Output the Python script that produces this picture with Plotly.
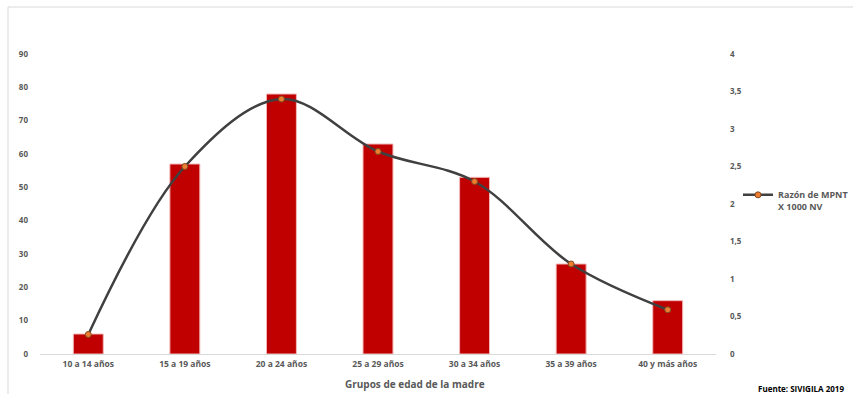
import plotly.graph_objects as go

# Grupos de edad y valores
grupos = ["10 a 14 años", "15 a 19 años", "20 a 24 años", "25 a 29 años",
          "30 a 34 años", "35 a 39 años", "40 y más años"]
casos = [6, 57, 78, 63, 53, 27, 16]
razon = [0.26, 2.5, 3.4, 2.7, 2.3, 1.2, 0.59]

left_ticks = [0, 10, 20, 30, 40, 50, 60, 70, 80, 90]
right_ticks = [0, 0.5, 1, 1.5, 2, 2.5, 3, 3.5, 4]
right_labels = ["0", "0,5", "1", "1,5", "2", "2,5", "3", "3,5", "4"]

W, H = 853, 394
ML, MR, MT, MB = 40, 137, 54, 40
PW, PH = W - ML - MR, H - MT - MB


def px_x(x):
    return (x - ML) / PW


def px_y(y):
    return (H - MB - y) / PH


FONT = "Open Sans"
GRAY = "#595959"

fig = go.Figure()
fig.add_trace(go.Bar(
    x=grupos, y=casos, width=0.31,
    marker=dict(color="#C00000", line=dict(color="#F2B8B8", width=1)),
    showlegend=False, yaxis="y",
))
fig.add_trace(go.Scatter(
    x=grupos, y=razon, yaxis="y2", mode="lines+markers",
    name="Razón de MPNT<br>X 1000 NV",
    line=dict(color="#404040", width=2.5, shape="spline", smoothing=1),
    marker=dict(size=6, color="#ED7D31", line=dict(color="#7F4A1F", width=1)),
))

fig.update_layout(
    width=W, height=H,
    margin=dict(l=ML, r=MR, t=MT, b=MB, autoexpand=False),
    paper_bgcolor="white", plot_bgcolor="white",
    font=dict(family=FONT, color=GRAY, size=8),
    xaxis=dict(
        showgrid=False, showline=True, linecolor="#D9D9D9", linewidth=1,
        tickfont=dict(family=FONT, size=8.5, color=GRAY, weight="bold"),
        ticks="", range=[-0.5, 6.5], ticklabelstandoff=2,
    ),
    yaxis=dict(
        range=[0, 90], tickvals=left_ticks, showgrid=False, zeroline=False,
        showline=False, ticks="", ticklabelstandoff=11,
        tickfont=dict(family=FONT, size=8, color=GRAY, weight="bold"),
    ),
    yaxis2=dict(
        range=[0, 4], tickvals=right_ticks, ticktext=right_labels,
        overlaying="y", side="right", showgrid=False, zeroline=False,
        showline=False, ticks="", ticklabelstandoff=13,
        tickfont=dict(family=FONT, size=8, color=GRAY, weight="bold"),
    ),
    legend=dict(
        x=px_x(738), y=px_y(201), xanchor="left", yanchor="middle",
        font=dict(family=FONT, size=9, color=GRAY, weight="bold"),
        itemwidth=30, bgcolor="rgba(0,0,0,0)", valign="top",
    ),
    annotations=[
        dict(text="Grupos de edad de la madre", x=px_x(415), y=px_y(384),
             xref="paper", yref="paper", showarrow=False, yanchor="middle",
             font=dict(family=FONT, size=10, color=GRAY, weight="bold")),
        dict(text="Fuente: SIVIGILA 2019", x=px_x(846), y=px_y(388),
             xref="paper", yref="paper", showarrow=False, xanchor="right",
             yanchor="middle",
             font=dict(family=FONT, size=8, color="#000000", weight="bold")),
    ],
    shapes=[
        dict(type="line", xref="paper", yref="paper",
             x0=px_x(8), x1=px_x(853), y0=px_y(7), y1=px_y(7),
             line=dict(color="#D9D9D9", width=1)),
        dict(type="line", xref="paper", yref="paper",
             x0=px_x(8), x1=px_x(8), y0=px_y(7), y1=px_y(394),
             line=dict(color="#D9D9D9", width=1)),
    ],
)

fig.write_html("out.html")
